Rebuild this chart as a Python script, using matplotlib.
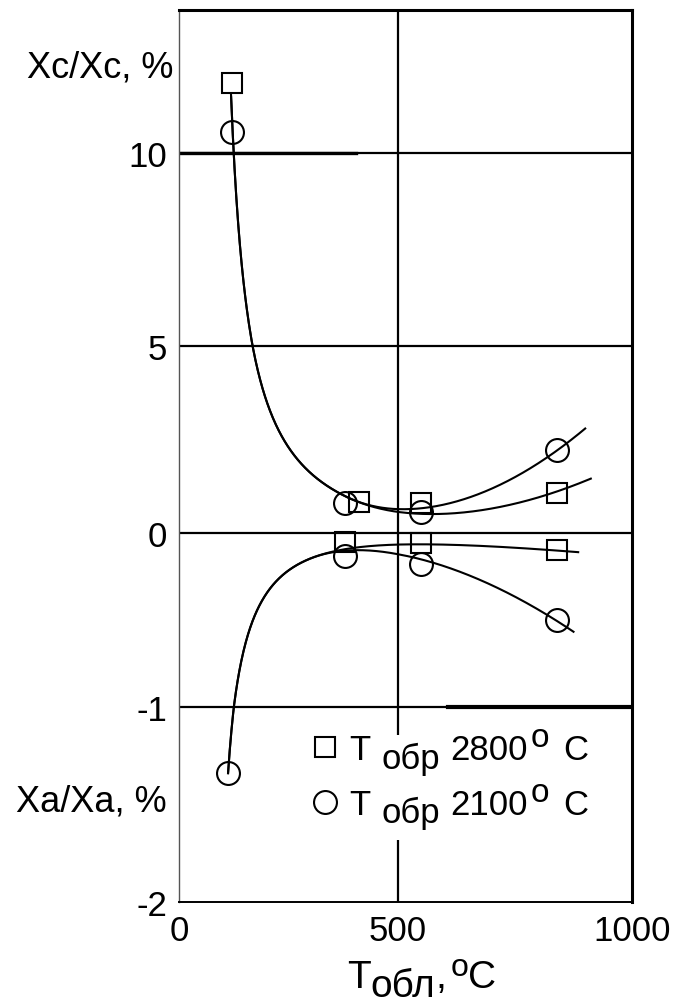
import matplotlib.pyplot as plt
from matplotlib.patches import Rectangle
from matplotlib.lines import Line2D
import numpy as np

plt.rcParams['font.family'] = ['Liberation Sans', 'DejaVu Sans']

# annealing temperature (°C) and relative change, %
t_2800_c = [120, 410, 550, 840]
xc_2800 = [11.8, 0.83, 0.80, 1.07]
t_2800_a = [380, 550, 840]
xa_2800 = [-0.05, -0.06, -0.10]

t_2100_c = [120, 380, 550, 840]
xc_2100 = [10.55, 0.80, 0.56, 2.22]
t_2100_a = [112, 380, 550, 840]
xa_2100 = [-1.34, -0.13, -0.18, -0.50]

x_ticks = [0, 500, 1000]
y_ticks = [-2, -1, 0, 5, 10]
y_grid = [10, 5, 0, -1]

# broken axes: each labelled interval gets its own length
x_marks = [0, 500, 1000]
x_span = [0, 219, 453]
y_marks = [-2, -1, 0, 5, 10, 15]
y_span = [0, 195, 369, 556, 749, 942]


def hinge(x, x0):
    return np.clip(np.asarray(x, float) - x0, 0, None) ** 2


def fit_upper():
    # shared hyperbola, each series turns up after 380 °C
    tc, ts = np.array(t_2100_c, float), np.array(t_2800_c, float)
    A = np.vstack([
        np.column_stack([1 / (tc - 75), np.ones_like(tc), hinge(tc, 380), 0 * tc]),
        np.column_stack([1 / (ts - 75), np.ones_like(ts), 0 * ts, hinge(ts, 380)]),
    ])
    b = np.concatenate([xc_2100, xc_2800])
    k = np.linalg.lstsq(A, b, rcond=None)[0]
    f_c = lambda x: k[0] / (x - 75) + k[1] + k[2] * hinge(x, 380)
    f_s = lambda x: k[0] / (x - 75) + k[1] + k[3] * hinge(x, 380)
    return f_c, f_s


def fit_lower():
    tc, ts = np.array(t_2100_a, float), np.array(t_2800_a, float)
    A = np.vstack([
        np.column_stack([1 / (tc - 65), np.ones_like(tc), tc, -hinge(tc, 300)]),
        np.column_stack([1 / (ts - 65), np.ones_like(ts), ts, 0 * ts]),
    ])
    b = np.concatenate([xa_2100, xa_2800])
    k = np.linalg.lstsq(A, b, rcond=None)[0]
    f_s = lambda x: k[0] / (x - 65) + k[1] + k[2] * x
    f_c = lambda x: f_s(x) - k[3] * hinge(x, 300)
    return f_c, f_s


fig = plt.figure(figsize=(6.75, 10.03), dpi=100)
ax = fig.add_axes([179 / 675, 1 - 903 / 1003, 453 / 675, 892 / 1003])
ax.set_xscale('function', functions=(lambda v: np.interp(v, x_marks, x_span),
                                     lambda p: np.interp(p, x_span, x_marks)))
ax.set_yscale('function', functions=(lambda v: np.interp(v, y_marks, y_span),
                                     lambda p: np.interp(p, y_span, y_marks)))
ax.set_xlim(0, 1000)
ax.set_ylim(-2, 13.7)

for y in y_grid:
    ax.axhline(y, color='k', lw=1.6, zorder=1)
ax.axvline(500, color='k', lw=1.6, zorder=1)
# heavier strokes on parts of the 10 and -1 lines
ax.axhline(10, xmin=0, xmax=0.39, color='k', lw=2.4, zorder=1)
ax.axhline(-1, xmin=0.594, xmax=1, color='k', lw=3.0, zorder=1)

# fitted curves
up_c, up_s = fit_upper()
lo_c, lo_s = fit_lower()
top = max(xc_2800)
xx = np.linspace(100, 900, 600)
yy = up_c(xx)
ax.plot(xx[yy <= top], yy[yy <= top], color='k', lw=1.5, zorder=3)
xx = np.linspace(100, 912, 600)
yy = up_s(xx)
ax.plot(xx[yy <= top], yy[yy <= top], color='k', lw=1.5, zorder=3)
xx = np.linspace(t_2100_a[0], 875, 600)
ax.plot(xx, lo_c(xx), color='k', lw=1.5, zorder=3)
xx = np.linspace(t_2100_a[0], 885, 600)
ax.plot(xx, lo_s(xx), color='k', lw=1.5, zorder=3)

sq = dict(ls='none', marker='s', ms=14, mfc='none', mec='k', mew=1.5, zorder=4)
ci = dict(ls='none', marker='o', ms=16.5, mfc='none', mec='k', mew=1.5, zorder=4)
ax.plot(t_2800_c, xc_2800, **sq)
ax.plot(t_2800_a, xa_2800, **sq)
ax.plot(t_2100_c, xc_2100, **ci)
ax.plot(t_2100_a, xa_2100, **ci)

# white field under the legend
ax.add_patch(Rectangle((0.29, 0.07), 0.62, 0.117, transform=ax.transAxes,
                       fc='white', ec='none', zorder=2))

ax.set_xticks(x_ticks)
ax.set_xticklabels([str(v) for v in x_ticks])
ax.set_yticks(y_ticks)
ax.set_yticklabels([str(v) for v in y_ticks])
ax.tick_params(length=0, labelsize=25, pad=8.5)

ax.spines['left'].set(linewidth=1.0, color='#555555')
ax.spines['bottom'].set(linewidth=1.4, color='k')
ax.spines['top'].set(linewidth=2.2, color='k')
ax.spines['right'].set(linewidth=2.2, color='k')

handles = [Line2D([], [], **sq), Line2D([], [], **ci)]
leg = ax.legend(handles, ['T', 'T'], loc='upper left', bbox_to_anchor=(0.284, 0.189),
                frameon=False, fontsize=25, handlelength=1.0, handletextpad=0.19,
                labelspacing=0.62, borderpad=0, borderaxespad=0)


def rich(first, parts):
    # chain text pieces after `first`, shifting sub/superscripts by dy points
    prev = first
    for s, dx, dy, size in parts:
        prev = ax.annotate(s, xy=(1, 0), xycoords=(prev, first), xytext=(dx, dy),
                           textcoords='offset points', fontsize=size,
                           va='bottom', ha='left', annotation_clip=False, zorder=7)


for txt, temp in zip(leg.get_texts(), ['2800', '2100']):
    rich(txt, [('обр', 8.5, -6, 25), (temp, 7, 0, 25), ('o', 2, 9.5, 24), ('C', 10, 0, 25)])

xl = fig.text(347 / 675, 1 - 988 / 1003, 'T', fontsize=28, ha='left', va='baseline')
rich(xl, [('обл', 0, -6.5, 28), (',', 0, 0, 28), ('o', 3, 9, 23), ('C', 0, 0, 28)])

fig.text(173 / 675, 1 - 68 / 1003, 'Xc/Xc, %', fontsize=26, ha='right', va='center')
fig.text(167 / 675, 1 - 802 / 1003, 'Xa/Xa, %', fontsize=26, ha='right', va='center')

fig.savefig('out.png', dpi=100)
